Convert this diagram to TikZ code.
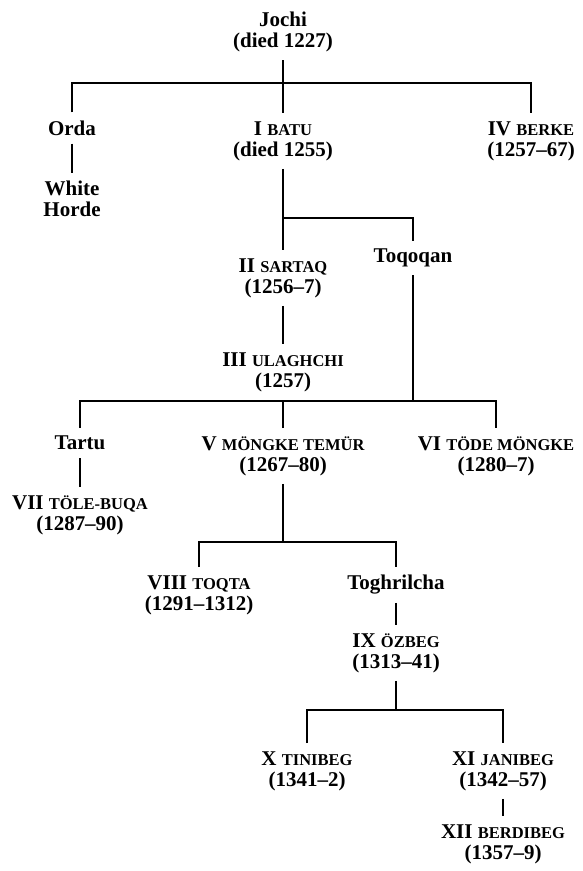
\documentclass[tikz,border=0pt]{standalone}
\usepackage{fontspec}
\setmainfont{Liberation Serif}

% small capitals for the khans' names
\newcommand{\smc}[1]{{\fontsize{16.5}{21}\selectfont #1}}

\begin{document}
\begin{tikzpicture}[x=1pt, y=-1pt,
  person/.style={align=center, inner xsep=2pt, inner ysep=8pt, font={\fontsize{21}{21}\selectfont\bfseries}},
  link/.style={line width=1.6pt}]
\useasboundingbox (0,0) rectangle (582,871);

% Jochi and his sons
\node[person] (jochi) at (283,32) {Jochi\\(died 1227)};
\node[person] (orda) at (72,128) {Orda};
\node[person] (white) at (72,199) {White\\Horde};
\node[person] (batu) at (283,141) {I \smc{BATU}\\(died 1255)};
\node[person] (berke) at (531,141) {IV \smc{BERKE}\\(1257--67)};

% line of Batu
\node[person] (sartaq) at (283,278) {II \smc{SARTAQ}\\(1256--7)};
\node[person] (toqoqan) at (413,258) {Toqoqan};
\node[person] (ulaghchi) at (283,372) {III \smc{ULAGHCHI}\\(1257)};

% sons of Toqoqan
\node[person] (tartu) at (80,443) {Tartu};
\node[person] (tole) at (80,515) {VII \smc{TÖLE-BUQA}\\(1287--90)};
\node[person] (mongke) at (283,456) {V \smc{MÖNGKE TEMÜR}\\(1267--80)};
\node[person] (tode) at (496,456) {VI \smc{TÖDE MÖNGKE}\\(1280--7)};

% sons of Möngke Temür
\node[person] (toqta) at (199,595) {VIII \smc{TOQTA}\\(1291--1312)};
\node[person] (toghrilcha) at (396,585) {Toghrilcha};
\node[person] (ozbeg) at (396,653) {IX \smc{ÖZBEG}\\(1313--41)};

% sons of Özbeg
\node[person] (tinibeg) at (307,771) {X \smc{TINIBEG}\\(1341--2)};
\node[person] (janibeg) at (503,771) {XI \smc{JANIBEG}\\(1342--57)};
\node[person] (berdibeg) at (503,844) {XII \smc{BERDIBEG}\\(1357--9)};

% bars
\coordinate (jbar) at (283,83);
\coordinate (bbar) at (283,218);
\coordinate (tbar) at (413,401);
\coordinate (mbar) at (283,542);
\coordinate (obar) at (396,710);

\draw[link] (jochi.south) -- (batu.north);
\draw[link] (orda.north) |- (jbar) -| (berke.north);
\draw[link] (orda.south) -- (white.north);

\draw[link] (batu.south) -- (sartaq.north);
\draw[link] (bbar) -| (toqoqan.north);
\draw[link] (sartaq.south) -- (ulaghchi.north);

\draw[link] (toqoqan.south) -- (tbar);
\draw[link] (tartu.north) |- (tbar) -| (tode.north);
\draw[link] (mongke.north) -- (mongke.north |- tbar);
\draw[link] (tartu.south) -- (tole.north);

\draw[link] (mongke.south) -- (mbar);
\draw[link] (toqta.north) |- (mbar) -| (toghrilcha.north);
\draw[link] (toghrilcha.south) -- (ozbeg.north);

\draw[link] (ozbeg.south) -- (obar);
\draw[link] (tinibeg.north) |- (obar) -| (janibeg.north);
\draw[link] (janibeg.south) -- (berdibeg.north);

\end{tikzpicture}
\end{document}
